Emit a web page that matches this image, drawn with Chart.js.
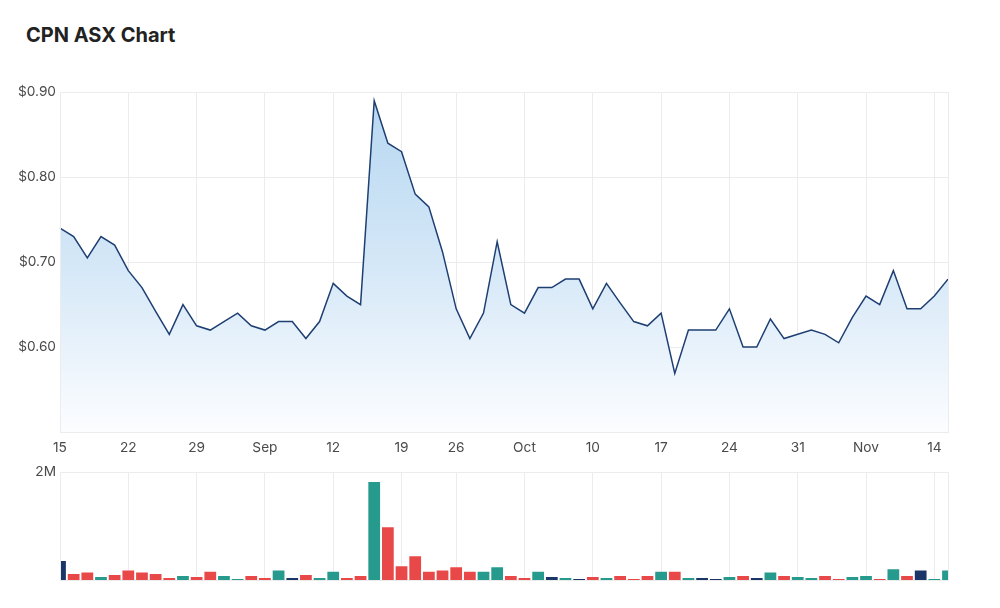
<!DOCTYPE html>
<html>
<head>
<meta charset="utf-8">
<script src="https://cdn.jsdelivr.net/npm/chart.js@4/dist/chart.umd.min.js"></script>
<style>
  html, body { margin: 0; padding: 0; background: #fff; }
  body { width: 1000px; height: 608px; position: relative; overflow: hidden; font-family: Inter, Roboto, sans-serif; }
  .titulo { position: absolute; left: 26px; top: 23px; font-size: 20px; font-weight: 700; color: #222; line-height: 24px; }
  #wrap-precio { position: absolute; left: 0; top: 80px; width: 1000px; height: 380px; }
  #wrap-volumen { position: absolute; left: 0; top: 460px; width: 1000px; height: 140px; }
</style>
</head>
<body>
<div class="titulo">CPN ASX Chart</div>
<div id="wrap-precio"><canvas id="chartPrecio"></canvas></div>
<div id="wrap-volumen"><canvas id="chartVolumen"></canvas></div>

<script>
/* ── Datos ─────────────────────────────────────────────────────────────── */
const fechas = [
  'Aug 15','Aug 16','Aug 17','Aug 18','Aug 19','Aug 22','Aug 23','Aug 24','Aug 25','Aug 26',
  'Aug 29','Aug 30','Aug 31','Sep 1','Sep 2','Sep 5','Sep 6','Sep 7','Sep 8','Sep 9',
  'Sep 12','Sep 13','Sep 14','Sep 15','Sep 16','Sep 19','Sep 20','Sep 21','Sep 23','Sep 26',
  'Sep 27','Sep 28','Sep 29','Sep 30','Oct 3','Oct 4','Oct 5','Oct 6','Oct 7','Oct 10',
  'Oct 11','Oct 12','Oct 13','Oct 14','Oct 17','Oct 18','Oct 19','Oct 20','Oct 21','Oct 24',
  'Oct 25','Oct 26','Oct 27','Oct 28','Oct 31','Nov 1','Nov 2','Nov 3','Nov 4','Nov 7',
  'Nov 8','Nov 9','Nov 10','Nov 11','Nov 14','Nov 15'
];

const precios = [
  0.740, 0.730, 0.705, 0.730, 0.720, 0.690, 0.670, 0.642, 0.615, 0.650,
  0.625, 0.620, 0.630, 0.640, 0.625, 0.620, 0.630, 0.630, 0.610, 0.630,
  0.675, 0.660, 0.650, 0.890, 0.840, 0.830, 0.780, 0.765, 0.712, 0.645,
  0.610, 0.640, 0.724, 0.650, 0.640, 0.670, 0.670, 0.680, 0.680, 0.645,
  0.675, 0.652, 0.630, 0.625, 0.640, 0.569, 0.620, 0.620, 0.620, 0.645,
  0.600, 0.600, 0.633, 0.610, 0.615, 0.620, 0.615, 0.605, 0.635, 0.660,
  0.650, 0.690, 0.645, 0.645, 0.660, 0.680
];

const volumenes = [
  354000, 110000, 137000,  56000,  93000, 174000, 137000, 110000,  37000,  75000,
   56000, 155000,  75000,  19000,  75000,  37000, 174000,  37000,  93000,  37000,
  155000,  37000,  75000, 1820000, 980000, 255000, 440000, 155000, 174000, 236000,
  155000, 155000, 236000,  75000,  37000, 155000,  56000,  37000,  19000,  56000,
   37000,  75000,  19000,  75000, 155000, 155000,  37000,  37000,  19000,  56000,
   75000,  37000, 137000,  75000,  56000,  37000,  75000,  19000,  56000,  75000,
   19000, 200000,  75000, 174000,  19000, 174000
];

const tickFechas = ['Aug 15','Aug 22','Aug 29','Sep 5','Sep 12','Sep 19','Sep 26','Oct 3','Oct 10','Oct 17','Oct 24','Oct 31','Nov 7','Nov 14'];
const tickLabels = ['15','22','29','Sep','12','19','26','Oct','10','17','24','31','Nov','14'];

/* ── Helpers ───────────────────────────────────────────────────────────── */
const COLOR_GRID  = '#ececec';
const COLOR_TEXTO = '#4a4a4a';
const FUENTE = { family: 'Inter, Roboto, sans-serif', size: 13.7 };

function etiquetaX(i) {
  const k = tickFechas.indexOf(fechas[i]);
  return k >= 0 ? tickLabels[k] : null;
}

function colorBarra(i) {
  if (i === 0 || precios[i] === precios[i - 1]) return '#1a3668';
  return precios[i] > precios[i - 1] ? '#259a8d' : '#e84848';
}

// borde gris alrededor del área del gráfico
const bordeArea = {
  id: 'bordeArea',
  afterDraw(chart) {
    const a = chart.chartArea, ctx = chart.ctx;
    ctx.save();
    ctx.strokeStyle = COLOR_GRID;
    ctx.lineWidth = 1;
    ctx.strokeRect(Math.round(a.left) + 0.5, Math.round(a.top) + 0.5, Math.round(a.right - a.left), Math.round(a.bottom - a.top));
    ctx.restore();
  }
};

Chart.defaults.animation = false;
Chart.defaults.responsive = true;
Chart.defaults.maintainAspectRatio = false;

/* ── Gráfico de precio ─────────────────────────────────────────────────── */
new Chart(document.getElementById('chartPrecio'), {
  type: 'line',
  data: {
    labels: fechas,
    datasets: [{
      data: precios,
      borderColor: '#1e3f72',
      borderWidth: 1.5,
      pointRadius: 0,
      tension: 0,
      fill: 'start',
      backgroundColor(context) {
        const a = context.chart.chartArea;
        if (!a) return 'rgba(190,220,243,0.6)';
        const g = context.chart.ctx.createLinearGradient(0, a.top, 0, a.bottom);
        g.addColorStop(0, 'rgb(182,215,241)');
        g.addColorStop(0.5, 'rgb(212,231,247)');
        g.addColorStop(1, 'rgb(252,253,255)');
        return g;
      }
    }]
  },
  options: {
    layout: { padding: { top: 11, right: 52, left: 0, bottom: 0 } },
    plugins: { legend: { display: false }, tooltip: { enabled: false } },
    scales: {
      x: {
        offset: false,
        afterFit(s) { s.height = 28; },
        grid: { color: COLOR_GRID, drawTicks: false },
        border: { color: COLOR_GRID },
        ticks: {
          autoSkip: false, maxRotation: 0, padding: 8,
          color: COLOR_TEXTO, font: FUENTE,
          callback: (v, i) => etiquetaX(i)
        }
      },
      y: {
        min: 0.5, max: 0.9,
        afterFit(s) { s.width = 60; },
        grid: { color: COLOR_GRID, drawTicks: false },
        border: { color: COLOR_GRID },
        ticks: {
          stepSize: 0.1, padding: 4,
          color: COLOR_TEXTO, font: FUENTE,
          callback: v => v > 0.55 ? '$' + v.toFixed(2) : null
        }
      }
    }
  },
  plugins: [bordeArea]
});

/* ── Gráfico de volumen ────────────────────────────────────────────────── */
new Chart(document.getElementById('chartVolumen'), {
  type: 'bar',
  data: {
    labels: fechas,
    datasets: [{
      data: volumenes,
      backgroundColor: fechas.map((f, i) => colorBarra(i)),
      borderWidth: 0,
      barPercentage: 0.86,
      categoryPercentage: 1
    }]
  },
  options: {
    layout: { padding: { top: 12, right: 52, left: 0, bottom: 20 } },
    plugins: { legend: { display: false }, tooltip: { enabled: false } },
    scales: {
      x: {
        offset: false,
        afterFit(s) { s.height = 0; },
        grid: { color: COLOR_GRID, drawTicks: false, offset: false },
        border: { display: false },
        ticks: {
          display: false, autoSkip: false,
          callback: (v, i) => etiquetaX(i)
        }
      },
      y: {
        min: 0, max: 2000000,
        afterFit(s) { s.width = 60; },
        grid: { color: COLOR_GRID, drawTicks: false },
        border: { display: false },
        ticks: {
          stepSize: 2000000, padding: 4,
          color: COLOR_TEXTO, font: FUENTE,
          callback: v => v === 2000000 ? '2M' : null
        }
      }
    }
  },
  plugins: [bordeArea]
});
</script>
</body>
</html>
